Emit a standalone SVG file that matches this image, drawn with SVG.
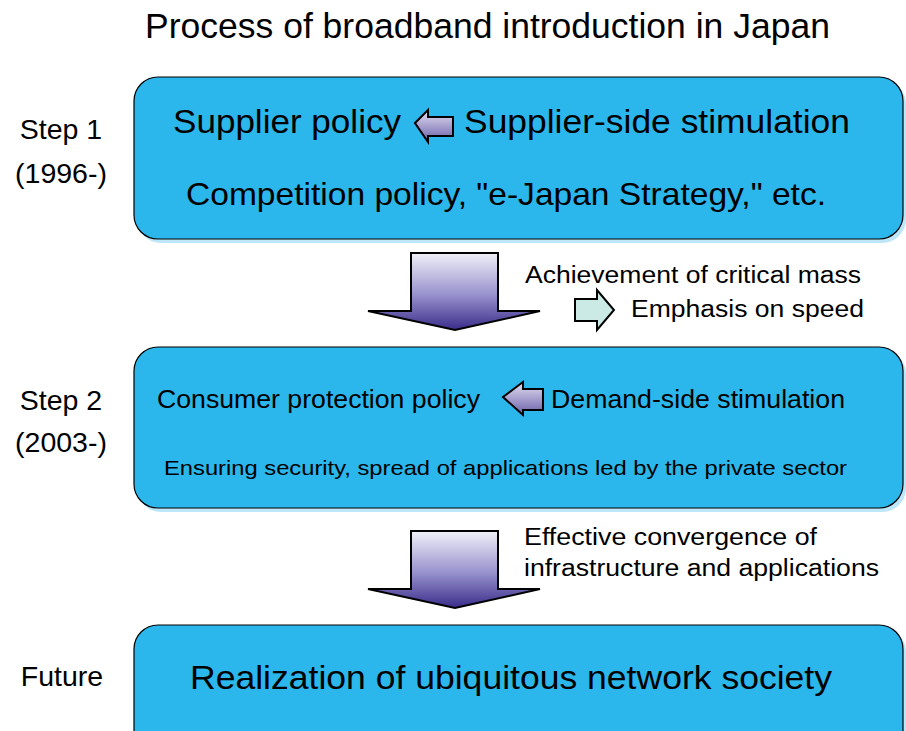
<svg xmlns="http://www.w3.org/2000/svg" width="906" height="731" viewBox="0 0 906 731">
<defs>
<linearGradient id="gBig" x1="0" y1="0" x2="0" y2="1">
<stop offset="0" stop-color="#F0F0F8"/>
<stop offset="0.55" stop-color="#9690CC"/>
<stop offset="1" stop-color="#3A2C8A"/>
</linearGradient>
<linearGradient id="gSmall" x1="0" y1="0" x2="0" y2="1">
<stop offset="0" stop-color="#E4E0F4"/>
<stop offset="1" stop-color="#6A60A8"/>
</linearGradient>
<style>
.box{fill:#2BB7EC;stroke:#000;stroke-width:1.2}
.shadow{fill:#BDE6F8}
.t{font-family:"Liberation Sans",Arial,sans-serif;fill:#000}
.lbl{font-size:28.5px;text-anchor:middle}
.big{fill:url(#gBig);stroke:#000;stroke-width:2;stroke-linejoin:miter}
.small{fill:url(#gSmall);stroke:#000;stroke-width:2}
.teal{fill:#CBEAE6;stroke:#000;stroke-width:2}
</style>
</defs>
<rect width="906" height="731" fill="#fff"/>
<text class="t" x="145" y="38" font-size="35.5" textLength="685" lengthAdjust="spacingAndGlyphs">Process of broadband introduction in Japan</text>

<g id="labels">
<text class="t lbl" x="61" y="139">Step 1</text>
<text class="t lbl" x="61" y="183">(1996-)</text>
<text class="t lbl" x="61" y="410">Step 2</text>
<text class="t lbl" x="61" y="452">(2003-)</text>
<text class="t lbl" x="62" y="686">Future</text>
</g>

<g id="step1">
<rect class="shadow" x="137" y="80" width="769" height="163" rx="24"/>
<rect class="box" x="134" y="77" width="769" height="162" rx="24"/>
<text class="t" x="173" y="133" font-size="33" textLength="228" lengthAdjust="spacingAndGlyphs">Supplier policy</text>
<path class="small" d="M415,123 L428,110 V117 H453 V136 H428 V142 Z"/>
<text class="t" x="464" y="133" font-size="33" textLength="386" lengthAdjust="spacingAndGlyphs">Supplier-side stimulation</text>
<text class="t" x="186" y="205" font-size="32" textLength="640" lengthAdjust="spacingAndGlyphs">Competition policy, "e-Japan Strategy," etc.</text>
</g>

<g id="step2">
<rect class="shadow" x="137" y="350" width="769" height="162" rx="24"/>
<rect class="box" x="134" y="347" width="769" height="161" rx="24"/>
<text class="t" x="157" y="408" font-size="25" textLength="323" lengthAdjust="spacingAndGlyphs">Consumer protection policy</text>
<path class="small" d="M503,397 L523,382 V389 H543 V410 H523 V415 Z"/>
<text class="t" x="551" y="408" font-size="25" textLength="294" lengthAdjust="spacingAndGlyphs">Demand-side stimulation</text>
<text class="t" x="164" y="475" font-size="21" textLength="683" lengthAdjust="spacingAndGlyphs">Ensuring security, spread of applications led by the private sector</text>
</g>

<g id="future">
<rect class="shadow" x="137" y="628" width="769" height="130" rx="24"/>
<rect class="box" x="134" y="625" width="769" height="130" rx="24"/>
<text class="t" x="190" y="689" font-size="34" textLength="642" lengthAdjust="spacingAndGlyphs">Realization of ubiquitous network society</text>
</g>

<g id="connectors">
<path class="big" d="M411,253 H498 V311 H540 L455,330 L368,311 H411 Z"/>
<path class="big" d="M411,531 H498 V589 H540 L455,608 L368,589 H411 Z"/>
<path class="teal" d="M575,299 H597 V290 L614,310 L597,330 V321 H575 Z"/>
<text class="t" x="525" y="283" font-size="23" textLength="336" lengthAdjust="spacingAndGlyphs">Achievement of critical mass</text>
<text class="t" x="631" y="317" font-size="23" textLength="233" lengthAdjust="spacingAndGlyphs">Emphasis on speed</text>
<text class="t" x="524" y="545" font-size="23" textLength="293" lengthAdjust="spacingAndGlyphs">Effective convergence of</text>
<text class="t" x="524" y="576" font-size="23" textLength="355" lengthAdjust="spacingAndGlyphs">infrastructure and applications</text>
</g>
</svg>
